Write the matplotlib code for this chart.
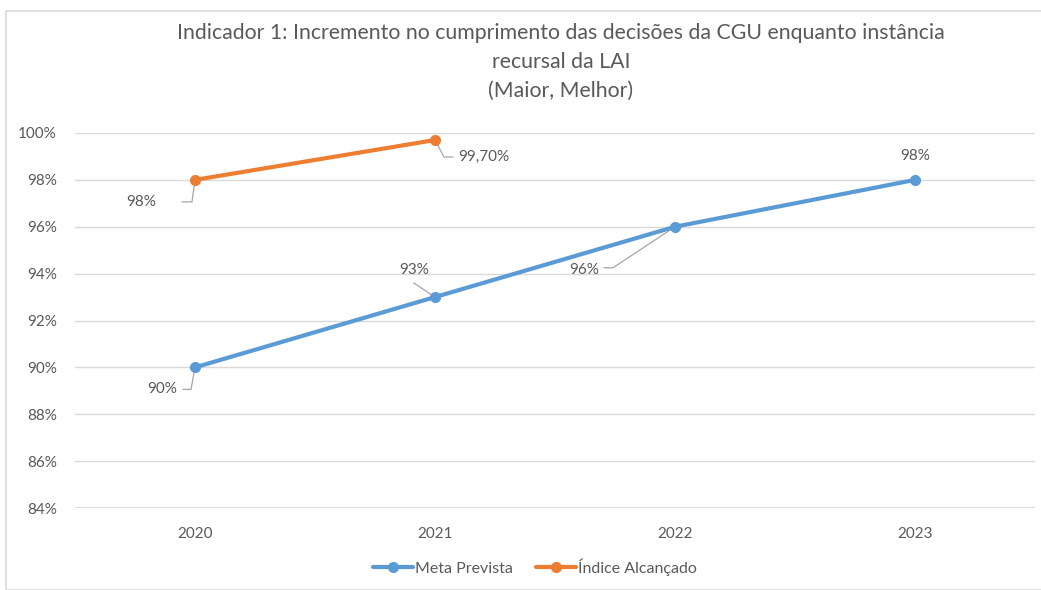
import matplotlib.pyplot as plt
from matplotlib.patches import Rectangle

plt.rcParams['font.family'] = ['Lato', 'DejaVu Sans']

anos = ["2020", "2021", "2022", "2023"]
meta = [90, 93, 96, 98]
indice = [98, 99.7]
rot_meta = ["90%", "93%", "96%", "98%"]
rot_indice = ["98%", "99,70%"]
yticks = [84, 86, 88, 90, 92, 94, 96, 98, 100]

azul = "#5B9BD5"
laranja = "#ED7D31"
cinza_txt = "#595959"
cinza_lin = "#A6A6A6"

fig = plt.figure(figsize=(10.41, 5.90), dpi=100)
W, H = 1041, 590
ax = fig.add_axes([75 / W, (H - 508) / H, 960 / W, 375 / H])

# moldura clara do grafico
fig.patches.append(Rectangle((6 / W, 0), 1.2, (H - 11) / H, transform=fig.transFigure,
                             fill=False, edgecolor="#D9D9D9", linewidth=1.2))

x = list(range(len(anos)))
ax.plot(x, meta, color=azul, lw=3, marker="o", ms=7, label="Meta Prevista",
        solid_capstyle="round", zorder=3)
ax.plot(x[:len(indice)], indice, color=laranja, lw=3, marker="o", ms=7,
        label="Índice Alcançado", solid_capstyle="round", zorder=3)

ax.set_xlim(-0.5, len(anos) - 0.5)
ax.set_ylim(84, 100)
ax.set_yticks(yticks)
ax.set_yticklabels([f"{v}%" for v in yticks])
ax.set_xticks(x)
ax.set_xticklabels(anos)
ax.tick_params(length=0, labelsize=11, colors=cinza_txt)
ax.tick_params(axis="y", pad=13)
ax.tick_params(axis="x", pad=14)
ax.grid(axis="y", color="#D9D9D9", lw=1)
ax.set_axisbelow(True)
for s in ax.spines.values():
    s.set_visible(False)
ax.axhline(84, color="#D9D9D9", lw=1.2, zorder=1)


def rotulo(xi, yi, txt, dx, dy, ha, leader):
    # dx, dy, leader em pixels relativos ao ponto
    px, py = ax.transData.transform((xi, yi))
    ax.text(px + dx, py + dy, txt, transform=None, ha=ha, va="center",
            fontsize=11, color=cinza_txt)
    if leader:
        pts = [(px, py)] + [(px + a, py + b) for a, b in leader]
        xs = [p[0] for p in pts]
        ys = [p[1] for p in pts]
        ax.plot(xs, ys, transform=None, color=cinza_lin, lw=0.9, zorder=2)


rotulo(x[0], indice[0], rot_indice[0], -54, -22, "center", [(-3, -22), (-13, -22)])
rotulo(x[1], indice[1], rot_indice[1], 23, -17, "left", [(9, -17), (18, -17)])
rotulo(x[0], meta[0], rot_meta[0], -33, -22, "center", [(-4, -22), (-12, -22)])
rotulo(x[1], meta[1], rot_meta[1], -21, 27, "center", [(-21, 14)])
rotulo(x[2], meta[2], rot_meta[2], -91, -43, "center", [(-62, -41), (-71, -41)])
rotulo(x[3], meta[3], rot_meta[3], 0, 24, "center", None)

fig.text(561 / W, 1 - 62 / H,
         "Indicador 1: Incremento no cumprimento das decisões da CGU enquanto instância\n"
         "recursal da LAI\n(Maior, Melhor)",
         ha="center", va="center", fontsize=15.3, color=cinza_txt, linespacing=1.55)

leg = fig.legend(loc="center", bbox_to_anchor=(535 / W, 1 - 567 / H), ncol=2,
                 frameon=False, fontsize=11.5, handlelength=2.5, handletextpad=0.15,
                 columnspacing=1.4)
for t in leg.get_texts():
    t.set_color(cinza_txt)

fig.savefig("out.png", dpi=100)
